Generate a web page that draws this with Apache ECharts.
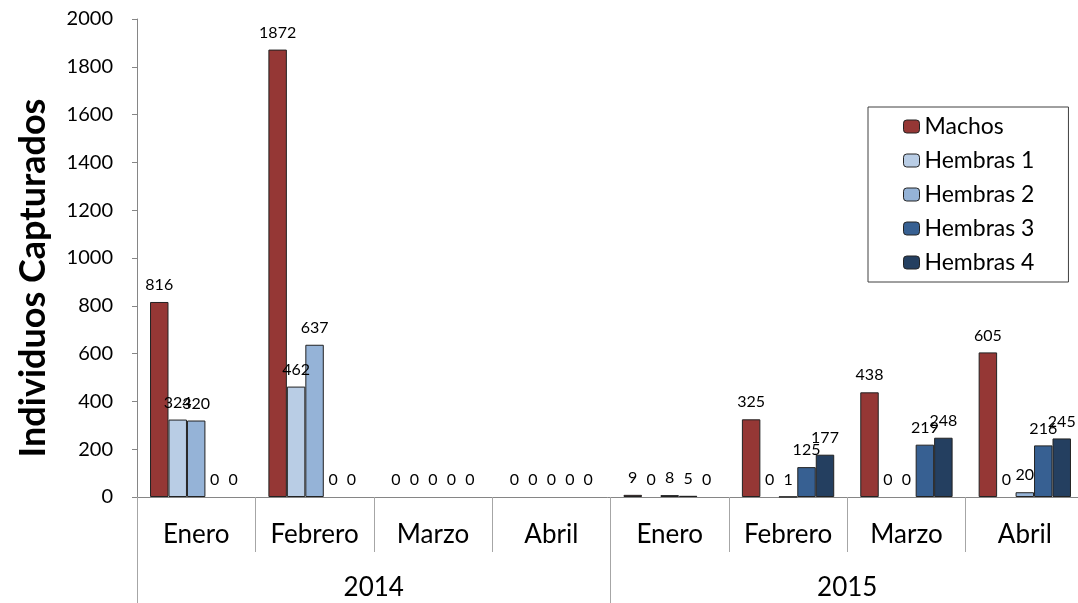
<!DOCTYPE html>
<html>
<head>
<meta charset="utf-8">
<script src="https://cdn.jsdelivr.net/npm/echarts@6/dist/echarts.min.js"></script>
<style>
html,body{margin:0;padding:0;background:#fff;}
#chart{width:1078px;height:603px;}
</style>
</head>
<body>
<div id="chart"></div>
<script>
const months = ['Enero','Febrero','Marzo','Abril','Enero','Febrero','Marzo','Abril'];
const years = ['2014','2015'];
const seriesNames = ['Machos','Hembras 1','Hembras 2','Hembras 3','Hembras 4'];
const machos   = [816, 1872, 0, 0, 9, 325, 438, 605];
const hembras1 = [324, 462, 0, 0, 0, 0, 0, 0];
const hembras2 = [320, 637, 0, 0, 8, 1, 0, 20];
const hembras3 = [0, 0, 0, 0, 5, 125, 219, 216];
const hembras4 = [0, 0, 0, 0, 0, 177, 248, 245];
const yTicks = [0, 200, 400, 600, 800, 1000, 1200, 1400, 1600, 1800, 2000];
const yTitle = 'Individuos Capturados';

const colors = ['#953735', '#B9CDE5', '#95B3D7', '#376092', '#243F60'];
const values = [machos, hembras1, hembras2, hembras3, hembras4];
const FONT = 'Lato, "Open Sans", sans-serif';

const chart = echarts.init(document.getElementById('chart'));
chart.setOption({
  animation: false,
  backgroundColor: '#fff',
  textStyle: { fontFamily: FONT },
  grid: { left: 137, width: 947, top: 19, bottom: 106, containLabel: false, outerBoundsMode: 'none' },
  legend: {
    orient: 'vertical',
    left: 868, top: 107,
    padding: [8, 34, 8, 35],
    itemGap: 11,
    itemWidth: 16, itemHeight: 13,
    borderColor: '#404040', borderWidth: 1,
    textStyle: { fontSize: 23, color: '#000', fontFamily: FONT, lineHeight: 23 },
    data: seriesNames,
    itemStyle: { borderColor: '#222', borderWidth: 1 }
  },
  xAxis: [
    {
      type: 'category',
      data: months,
      position: 'bottom',
      axisLine: { lineStyle: { color: '#868686', width: 1 } },
      axisTick: { show: true, interval: 0, length: 55, lineStyle: { color: '#A6A6A6' } },
      axisLabel: { interval: 0, margin: 25, fontSize: 26, color: '#000', fontFamily: FONT }
    },
    {
      type: 'category',
      data: years,
      position: 'bottom',
      axisLine: { show: false },
      axisTick: { show: true, interval: 0, length: 106, lineStyle: { color: '#A6A6A6' } },
      axisLabel: { interval: 0, margin: 78, fontSize: 26, color: '#000', fontFamily: FONT }
    }
  ],
  yAxis: {
    type: 'value',
    min: yTicks[0], max: yTicks[yTicks.length - 1], interval: 200,
    axisLine: { show: true, lineStyle: { color: '#868686', width: 1 } },
    axisTick: { show: true, length: 5, lineStyle: { color: '#868686' } },
    splitLine: { show: false },
    axisLabel: { margin: 24, fontSize: 20, color: '#000', fontFamily: FONT, formatter: v => String(v) }
  },
  graphic: [{
    type: 'text',
    x: 33, y: 278,
    rotation: Math.PI / 2,
    style: {
      text: yTitle,
      fontSize: 36, fontWeight: 'bold', fill: '#000', fontFamily: FONT,
      textAlign: 'center', textVerticalAlign: 'middle'
    }
  }],
  series: seriesNames.map((name, i) => ({
    name: name,
    type: 'bar',
    xAxisIndex: 0,
    data: values[i].map(v => v === 0 ? { value: v, itemStyle: { borderWidth: 0 } } : v),
    barGap: '0%',
    barCategoryGap: '22%',
    itemStyle: { color: colors[i], borderColor: '#222', borderWidth: 1 },
    label: { show: true, position: 'top', distance: 9, fontSize: 16, color: '#000', fontFamily: FONT }
  }))
});
</script>
</body>
</html>
